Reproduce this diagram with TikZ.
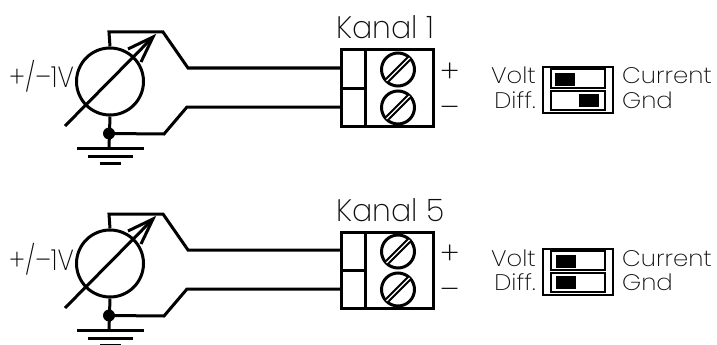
\documentclass[tikz,border=0pt]{standalone}
\usepackage{fontspec}
\setmainfont{Poppins ExtraLight}
\definecolor{ink}{gray}{0.05}
\tikzset{
  wire/.style={line width=3pt,line join=miter,black},
  source/.style={circle,draw,line width=3pt,minimum size=67pt,inner sep=0pt},
  dotnode/.style={circle,fill=black,minimum size=12pt,inner sep=0pt},
  block/.style={draw,line width=3pt,minimum width=92pt,minimum height=76pt,inner sep=0pt},
  screw/.style={circle,draw,line width=3pt,minimum size=33pt,inner sep=0pt},
  swouter/.style={draw,line width=1.3pt,minimum width=70pt,minimum height=46pt,inner sep=0pt},
  swinner/.style={draw,line width=1.3pt,minimum width=54pt,minimum height=19pt,inner sep=0pt},
  knob/.style={fill=black,minimum width=20pt,minimum height=13pt,inner sep=0pt},
  lab/.style={inner sep=0pt,text=ink,xscale=1.08,font=\fontsize{22.5}{22.5}\selectfont},
  big/.style={inner sep=0pt,text=ink,font=\fontsize{29}{29}\selectfont},
  sign/.style={inner sep=0pt,text=ink,font=\fontsize{31}{31}\selectfont},
  gnd/.style={line width=3pt}
}
\newcommand{\screwmark}[1]{%
  \draw[line width=5.5pt] ([xshift=-10.5pt,yshift=-10.5pt]#1.center) -- ([xshift=10.5pt,yshift=10.5pt]#1.center);
  \draw[line width=1.4pt,white] ([xshift=-11.5pt,yshift=-11.5pt]#1.center) -- ([xshift=11.5pt,yshift=11.5pt]#1.center);
}
\newcommand{\channelrow}[3]{% #1 y-offset, #2 prefix, #3 channel
\begin{scope}[shift={(0,#1)}]
  \node[source] (#2src) at (110,81.5) {};
  \node[big,xscale=.88,anchor=base west] (#2v) at (9,88) {+/–1V};
  \node[dotnode] (#2dot) at (109,133.5) {};
  \coordinate (#2gnd) at (109,148);
  \coordinate (#2ga) at (77,148); \coordinate (#2gb) at (144,148);
  \coordinate (#2gc) at (88,156); \coordinate (#2gd) at (133,156);
  \coordinate (#2ge) at (100,163); \coordinate (#2gf) at (121,163);
  \coordinate (#2t1) at (109,32); \coordinate (#2t2) at (163,32); \coordinate (#2t3) at (188,68);
  \coordinate (#2b2) at (164,134); \coordinate (#2b3) at (187,107);
  \coordinate (#2as) at (65,126); \coordinate (#2ae) at (153,37);
  \coordinate (#2ba) at (128,49); \coordinate (#2bb) at (141,62);
  \node[block] (#2blk) at (387,88) {};
  \coordinate (#2in) at (341,68); \coordinate (#2ib) at (341,107);
  \coordinate (#2dv) at (365,50); \coordinate (#2dw) at (365,126);
  \coordinate (#2dh) at (341,88); \coordinate (#2di) at (365,88);
  \node[screw] (#2s1) at (398,69.5) {};
  \node[screw] (#2s2) at (398,107.5) {};
  \node[big,anchor=base west,xscale=.97,font=\fontsize{31}{31}\selectfont] (#2k) at (336,39) {Kanal #3};
  \node[sign,anchor=base] (#2plus) at (450,82) {+};
  \node[sign,anchor=base] (#2minus) at (450,118) {–};
  \draw[wire] (#2src.north) -- (#2t1) -- (#2t2) -- (#2t3) -- (#2in);
  \draw[wire] (#2src.south) -- (#2gnd);
  \draw[wire] (#2dot.center) -- (#2b2) -- (#2b3) -- (#2ib);
  \draw[wire] (#2as) -- (#2ae);
  \draw[wire] (#2ba) -- (#2ae) -- (#2bb);
  \draw[gnd] (#2ga) -- (#2gb);
  \draw[gnd] (#2gc) -- (#2gd);
  \draw[gnd] (#2ge) -- (#2gf);
  \draw[wire] (#2dv) -- (#2dw);
  \draw[wire] (#2dh) -- (#2di);
  \screwmark{#2s1}
  \screwmark{#2s2}
\end{scope}}
\newcommand{\switchrow}[4]{% #1 y offset, #2 prefix, #3 knob1 x, #4 knob2 x
\begin{scope}[shift={(0,#1)}]
  \node[swouter] (#2o) at (578,90) {};
  \node[swinner] (#2i1) at (578,78.5) {};
  \node[swinner] (#2i2) at (578,100.5) {};
  \node[knob] (#2k1) at (#3,79) {};
  \node[knob] (#2k2) at (#4,100.5) {};
  \node[lab,anchor=base east] (#2volt) at (536,84) {Volt};
  \node[lab,anchor=base east] (#2diff) at (536,108) {Diff.};
  \node[lab,anchor=base west] (#2cur) at (622,84) {Current};
  \node[lab,anchor=base west] (#2gndl) at (622,108) {Gnd};
\end{scope}}
\begin{document}
\begin{tikzpicture}[x=1pt,y=-1pt]
\useasboundingbox (0,0) rectangle (717,345);
\clip (0,0) rectangle (717,345);
\channelrow{0}{a}{1}
\channelrow{182}{b}{5}
\switchrow{0}{p}{565}{589}
\switchrow{182}{q}{566}{566}
\end{tikzpicture}
\end{document}
